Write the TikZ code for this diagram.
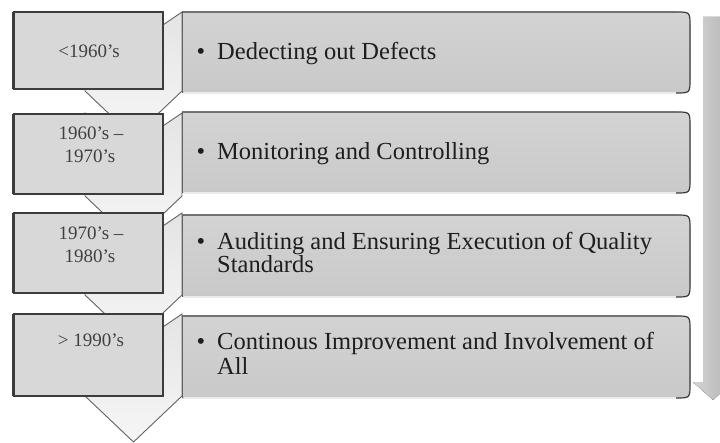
\documentclass[tikz,border=0pt]{standalone}
\usepackage{fontspec}
\setmainfont{Liberation Serif}
\definecolor{edge}{HTML}{3C3C3C}
\definecolor{yearfill}{HTML}{D8D8D8}
\definecolor{itemtop}{HTML}{D3D3D3}
\definecolor{itembot}{HTML}{C9C9C9}
\definecolor{chevtop}{HTML}{E4E4E4}
\definecolor{chevbot}{HTML}{F6F6F6}
\definecolor{inktext}{HTML}{1E1E1E}
\begin{document}
\begin{tikzpicture}[x=1bp,y=-1bp,
  chevshape/.style={draw=edge!80, line width=0.9bp, top color=chevtop, bottom color=chevbot},
  yearbox/.style={draw=edge, line width=1.1bp, fill=yearfill},
  itemfill/.style={top color=itemtop, bottom color=itembot},
  itemedge/.style={draw=edge, line width=1.2bp},
  itemlow/.style={draw=white!92!black, line width=1.5bp},
  flowarrow/.style={left color=black!17, right color=black!30},
  yeartext/.style={inner sep=0pt, anchor=base, text=inktext!85, font=\fontsize{19bp}{22bp}\selectfont},
  itemtext/.style={inner sep=0pt, anchor=base west, text=inktext, font=\fontsize{24.5bp}{23bp}\selectfont},
  bullet/.style={inner sep=0pt, anchor=base, text=inktext, font=\fontsize{24.5bp}{23bp}\selectfont}]
\useasboundingbox (0,0) rectangle (720,443);
\clip (0,0) rectangle (720,443);

% time arrow on the right edge
\fill[flowarrow] (703,17) -- (723,17) -- (723,382) -- (733,382) -- (713,400) -- (693,382) -- (703,382) -- cycle;

% down-pointing chevrons behind the year boxes (top / shoulder)
\foreach \t/\s in {12/91,113/196,213/295,314/396} {
  \path[chevshape] (85,\t) -- (133.5,\t+33) -- (182,\t) -- (182,\s)
     -- (133.5,\s+46) -- (85,\s) -- cycle;
}

% description panels, rounded on the right side only
\foreach \t/\b in {12/93,112/193,215/297,316/398} {
  \fill[itemfill] (182,\t) -- (676,\t) .. controls (690,\t) .. (690,\t+14)
     -- (690,\b-14) .. controls (690,\b) .. (676,\b) -- (182,\b) -- cycle;
  \draw[itemlow] (676,\b) -- (184,\b);
  \draw[itemedge] (182,\t) -- (676,\t) .. controls (690,\t) .. (690,\t+14)
     -- (690,\b-14) .. controls (690,\b) .. (676,\b);
  \draw[draw=edge!80, line width=0.9bp] (182,\t) -- (182,\b);
}

% year boxes with a darker left rim
\foreach \t/\b in {12/89,114/194,213/293,314/396} {
  \fill[edge] (12,\t) rectangle (16,\b);
  \path[yearbox] (14,\t) rectangle (163,\b);
}

% year labels
\node[yeartext] (y1)  at (89,58)  {<1960’s};
\node[yeartext] (y2a) at (91,140) {1960’s –};
\node[yeartext] (y2b) at (90,163) {1970’s};
\node[yeartext] (y3a) at (91,240) {1970’s –};
\node[yeartext] (y3b) at (90,263) {1980’s};
\node[yeartext] (y4)  at (91,347) {> 1990’s};

% bullets and descriptions
\node[bullet]   (b1) at (201,60)  {\textbullet};
\node[itemtext] (d1) at (217,60)  {Dedecting out Defects};
\node[bullet]   (b2) at (201,160) {\textbullet};
\node[itemtext] (d2) at (217,160) {Monitoring and Controlling};
\node[bullet]   (b3) at (201,250) {\textbullet};
\node[itemtext] (d3a) at (217,250) {Auditing and Ensuring Execution of Quality};
\node[itemtext] (d3b) at (217,273) {Standards};
\node[bullet]   (b4) at (201,350) {\textbullet};
\node[itemtext] (d4a) at (217,350) {Continous Improvement and Involvement of};
\node[itemtext] (d4b) at (217,374) {All};
\end{tikzpicture}
\end{document}
